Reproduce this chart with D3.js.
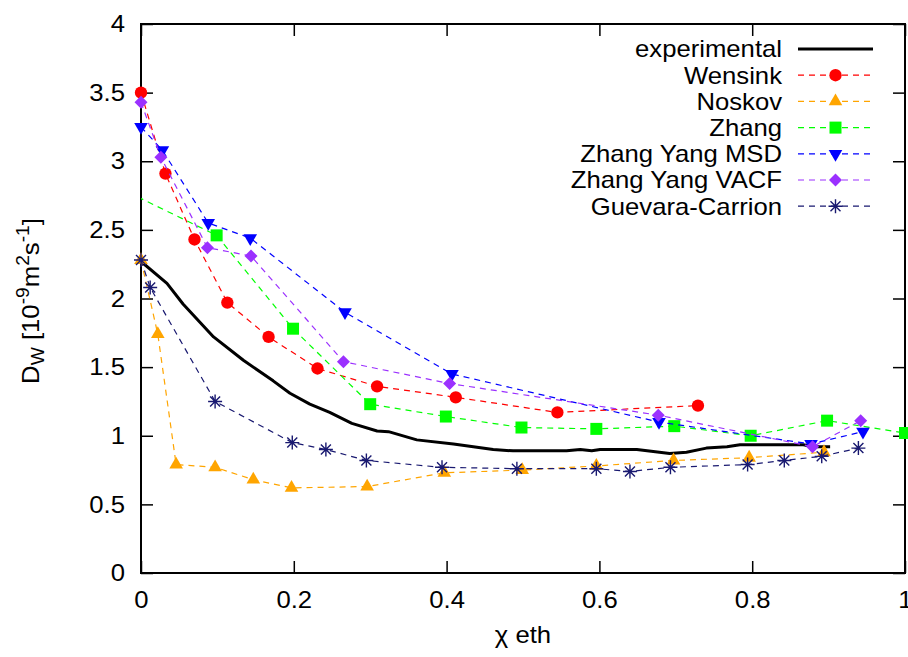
<!DOCTYPE html>
<html>
<head>
<meta charset="utf-8">
<script src="https://cdn.jsdelivr.net/npm/d3@7"></script>
<style>
  body { margin: 0; background: #fff; }
  svg text { font-family: "Liberation Sans", Arial, sans-serif; font-size: 24px; fill: #000; }
</style>
</head>
<body>
<div class="chart"></div>
<script>
// values: [chi eth, D_W]
const experimental = [
  [0, 2.27], [0.034, 2.11], [0.055, 1.96], [0.095, 1.72], [0.134, 1.55], [0.173, 1.40],
  [0.195, 1.31], [0.221, 1.23], [0.247, 1.17], [0.276, 1.09], [0.309, 1.035], [0.324, 1.03],
  [0.361, 0.97], [0.409, 0.94], [0.461, 0.90], [0.487, 0.89], [0.509, 0.89], [0.557, 0.89],
  [0.575, 0.90], [0.59, 0.89], [0.601, 0.90], [0.649, 0.90], [0.692, 0.87], [0.714, 0.88],
  [0.74, 0.91], [0.767, 0.92], [0.784, 0.935], [0.867, 0.935], [0.88, 0.92], [0.902, 0.92]
];
const wensink = [
  [0, 3.50], [0.032, 2.91], [0.070, 2.43], [0.113, 1.97], [0.167, 1.72], [0.231, 1.49],
  [0.309, 1.36], [0.412, 1.28], [0.545, 1.17], [0.729, 1.22]
];
const noskov = [
  [0, 2.28], [0.022, 1.74], [0.046, 0.79], [0.097, 0.77], [0.147, 0.68], [0.197, 0.62],
  [0.296, 0.63], [0.397, 0.73], [0.499, 0.75], [0.596, 0.78], [0.697, 0.82], [0.796, 0.84],
  [0.894, 0.88]
];
const zhang = [
  [-0.03, 2.81], [0.099, 2.46], [0.199, 1.78], [0.300, 1.23], [0.399, 1.14], [0.498, 1.06],
  [0.596, 1.05], [0.698, 1.07], [0.798, 1.00], [0.898, 1.11], [1.0, 1.02]
];
const zhangYangMSD = [
  [0, 3.25], [0.028, 3.08], [0.088, 2.55], [0.143, 2.44], [0.267, 1.90], [0.407, 1.45],
  [0.678, 1.10], [0.877, 0.94], [0.945, 1.03]
];
const zhangYangVACF = [
  [0, 3.43], [0.026, 3.03], [0.087, 2.37], [0.144, 2.31], [0.265, 1.54], [0.404, 1.38],
  [0.677, 1.15], [0.879, 0.92], [0.942, 1.11]
];
const guevaraCarrion = [
  [0, 2.28], [0.012, 2.08], [0.097, 1.25], [0.198, 0.95], [0.242, 0.90], [0.295, 0.82],
  [0.394, 0.77], [0.492, 0.76], [0.596, 0.76], [0.640, 0.74], [0.693, 0.77], [0.794, 0.79],
  [0.842, 0.82], [0.891, 0.85], [0.939, 0.91]
];
const seriesNames = ['experimental', 'Wensink', 'Noskov', 'Zhang', 'Zhang Yang MSD', 'Zhang Yang VACF', 'Guevara-Carrion'];
const xTicks = [0, 0.2, 0.4, 0.6, 0.8, 1];
const yTicks = [0, 0.5, 1, 1.5, 2, 2.5, 3, 3.5, 4];

const series = [
  { name: seriesNames[0], data: experimental, color: '#000', solid: true },
  { name: seriesNames[1], data: wensink, color: '#ff0000', marker: 'circle' },
  { name: seriesNames[2], data: noskov, color: '#ffa500', marker: 'triangle' },
  { name: seriesNames[3], data: zhang, color: '#00ff00', marker: 'square' },
  { name: seriesNames[4], data: zhangYangMSD, color: '#0000ff', marker: 'triangleDown' },
  { name: seriesNames[5], data: zhangYangVACF, color: '#9b30ff', marker: 'diamond' },
  { name: seriesNames[6], data: guevaraCarrion, color: '#191970', marker: 'star' }
];

const w = 908;
const h = 657;
const plot = { left: 141, right: 905, top: 24, bottom: 573 };
const stretch = 1.07;

const xScale = d3.scaleLinear().domain([0, 1]).range([plot.left, plot.right]);
const yScale = d3.scaleLinear().domain([0, 4]).range([plot.bottom, plot.top]);

const svg = d3.select('.chart')
  .append('svg')
  .attr('width', w)
  .attr('height', h)
  .style('background', '#fff');

function widen(sel) {
  sel.each(function () {
    const t = d3.select(this);
    const x = +t.attr('x') || 0;
    const y = +t.attr('y') || 0;
    t.attr('transform', `translate(${x},${y}) scale(${stretch},1) translate(${-x},${-y})`);
  });
}

function styleAxis(g) {
  g.select('.domain').remove();
  g.selectAll('line').attr('stroke', '#000').attr('stroke-width', 1.5);
  g.selectAll('text').style('font-size', '24px');
}

const fmt = (d) => String(d);

// axes with inward ticks, mirrored on top and right
svg.append('g')
  .attr('transform', `translate(0, ${plot.bottom})`)
  .call(d3.axisBottom(xScale).tickValues(xTicks).tickSize(-12).tickPadding(18).tickFormat(fmt))
  .call(styleAxis)
  .call((g) => widen(g.selectAll('text')));

svg.append('g')
  .attr('transform', `translate(0, ${plot.top})`)
  .call(d3.axisTop(xScale).tickValues(xTicks).tickSize(-12).tickFormat(''))
  .call(styleAxis);

svg.append('g')
  .attr('transform', `translate(${plot.left}, 0)`)
  .call(d3.axisLeft(yScale).tickValues(yTicks).tickSize(-12).tickPadding(16).tickFormat(fmt))
  .call(styleAxis)
  .call((g) => widen(g.selectAll('text')));

svg.append('g')
  .attr('transform', `translate(${plot.right}, 0)`)
  .call(d3.axisRight(yScale).tickValues(yTicks).tickSize(-12).tickFormat(''))
  .call(styleAxis);

svg.append('rect')
  .attr('x', plot.left)
  .attr('y', plot.top)
  .attr('width', plot.right - plot.left)
  .attr('height', plot.bottom - plot.top)
  .attr('fill', 'none')
  .attr('stroke', '#000')
  .attr('stroke-width', 2);

svg.append('clipPath')
  .attr('id', 'plot-clip')
  .append('rect')
  .attr('x', plot.left)
  .attr('y', plot.top)
  .attr('width', plot.right - plot.left)
  .attr('height', plot.bottom - plot.top);

const markerPaths = {
  circle: d3.symbol(d3.symbolCircle, 120)(),
  triangle: d3.symbol(d3.symbolTriangle, 80)(),
  triangleDown: d3.symbol(d3.symbolTriangle, 80)(),
  square: 'M-6,-6H6V6H-6Z',
  diamond: 'M0,-6.5L6.5,0L0,6.5L-6.5,0Z',
  star: 'M-7,0H7M0,-7V7M-5,-5L5,5M-5,5L5,-5'
};

function drawMarker(g, s, x, y) {
  const p = g.append('path')
    .attr('d', markerPaths[s.marker])
    .attr('transform', `translate(${x},${y})${s.marker === 'triangleDown' ? ' rotate(180)' : ''}`);
  if (s.marker === 'star') {
    p.attr('fill', 'none').attr('stroke', s.color).attr('stroke-width', 1.4);
  } else {
    p.attr('fill', s.color);
  }
}

const line = d3.line()
  .x((d) => xScale(d[0]))
  .y((d) => yScale(d[1]));

series.forEach((s) => {
  const g = svg.append('g').attr('class', 'series');
  g.append('path')
    .datum(s.data)
    .attr('clip-path', 'url(#plot-clip)')
    .attr('d', line)
    .attr('fill', 'none')
    .attr('stroke', s.color)
    .attr('stroke-width', s.solid ? 3 : 1.2)
    .attr('stroke-linejoin', 'round')
    .attr('stroke-dasharray', s.solid ? null : '6,5');
  if (s.marker) {
    s.data.filter((d) => d[0] >= 0 && d[0] <= 1)
      .forEach((d) => drawMarker(g, s, xScale(d[0]), yScale(d[1])));
  }
});

// legend
const legend = svg.append('g').attr('class', 'legend');
series.forEach((s, i) => {
  const y = 49 + i * 26.2;
  const t = legend.append('text')
    .attr('x', 782)
    .attr('y', y)
    .attr('dy', '0.35em')
    .attr('text-anchor', 'end')
    .text(s.name);
  widen(t);
  legend.append('line')
    .attr('x1', 798)
    .attr('x2', 873)
    .attr('y1', y)
    .attr('y2', y)
    .attr('stroke', s.color)
    .attr('stroke-width', s.solid ? 3 : 1.2)
    .attr('stroke-dasharray', s.solid ? null : '6,5');
  if (s.marker) drawMarker(legend, s, 835.5, y);
});

// axis titles
svg.append('text')
  .attr('x', 523)
  .attr('y', 643)
  .attr('text-anchor', 'middle')
  .attr('transform', `translate(523,643) scale(${stretch},1) translate(-523,-643)`)
  .text('χ eth');

const yl = svg.append('text')
  .attr('text-anchor', 'middle')
  .attr('transform', `translate(39,301) rotate(-90) scale(${stretch},1)`);
yl.append('tspan').text('D');
yl.append('tspan').attr('dy', 5).attr('font-size', '18px').text('W');
yl.append('tspan').attr('dy', -5).text(' [10');
yl.append('tspan').attr('dy', -10).attr('font-size', '18px').text('-9');
yl.append('tspan').attr('dy', 10).text('m');
yl.append('tspan').attr('dy', -10).attr('font-size', '18px').text('2');
yl.append('tspan').attr('dy', 10).text('s');
yl.append('tspan').attr('dy', -10).attr('font-size', '18px').text('-1');
yl.append('tspan').attr('dy', 10).text(']');
</script>
</body>
</html>
